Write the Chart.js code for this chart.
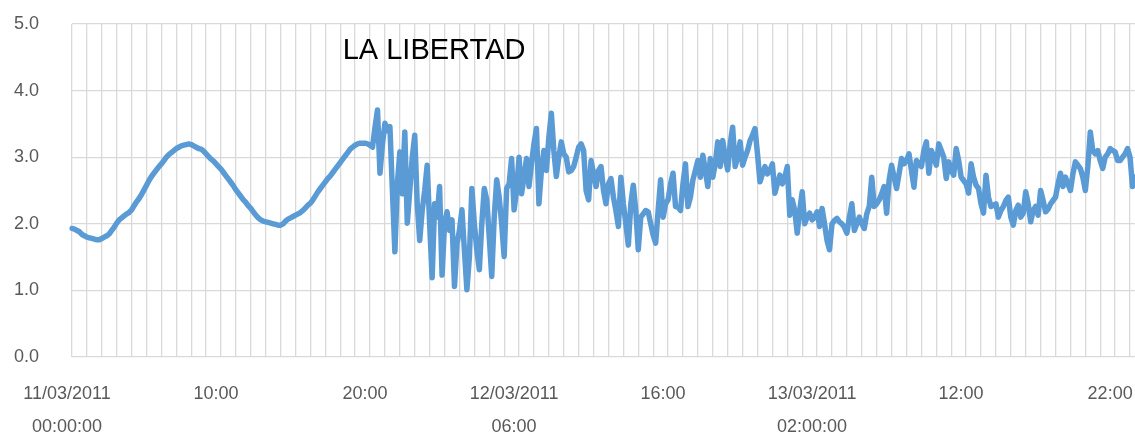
<!DOCTYPE html>
<html>
<head>
<meta charset="utf-8">
<title>LA LIBERTAD</title>
<script src="https://cdn.jsdelivr.net/npm/chart.js@4/dist/chart.umd.min.js"></script>
<style>
    html, body { margin: 0; padding: 0; background: #ffffff; }
    #wrap { width: 1135px; height: 434px; position: relative; }
</style>
</head>
<body>
<div id="wrap"><canvas id="tideChart"></canvas></div>
<script>
// series: sea level every 10 minutes starting 11/03/2011 00:00
const startTime = new Date(2011, 2, 11, 0, 0);
const stepMinutes = 10;

const seaLevel = [
    1.93,1.92,1.90,1.88,1.84,1.82,1.80,1.79,1.78,1.77,
    1.76,1.76,1.78,1.80,1.82,1.85,1.90,1.95,2.01,2.06,
    2.09,2.12,2.15,2.17,2.21,2.27,2.33,2.38,2.44,2.51,
    2.58,2.65,2.71,2.76,2.81,2.86,2.90,2.95,3.00,3.04,
    3.07,3.10,3.13,3.15,3.17,3.18,3.19,3.20,3.19,3.17,
    3.15,3.13,3.12,3.09,3.05,3.01,2.97,2.94,2.90,2.86,
    2.82,2.77,2.72,2.67,2.62,2.57,2.51,2.46,2.41,2.36,
    2.32,2.27,2.23,2.18,2.13,2.09,2.06,2.04,2.03,2.02,
    2.01,2.00,1.99,1.98,1.98,2.00,2.04,2.07,2.09,2.11,
    2.13,2.15,2.17,2.20,2.24,2.28,2.31,2.36,2.42,2.48,
    2.53,2.58,2.63,2.68,2.72,2.77,2.82,2.87,2.92,2.97,
    3.02,3.07,3.12,3.15,3.18,3.20,3.21,3.21,3.21,3.20,
    3.18,3.15,3.45,3.71,2.76,3.20,3.51,3.40,3.46,2.50,
    1.58,2.60,3.08,2.45,3.38,2.01,2.50,3.00,3.33,2.30,
    1.75,2.20,2.50,2.88,2.00,1.19,2.30,2.10,2.56,1.23,
    2.00,2.18,1.90,2.06,1.06,1.70,1.90,2.21,1.60,1.01,
    1.50,2.53,2.00,1.60,1.31,2.00,2.53,2.36,1.80,1.21,
    2.10,2.66,2.40,2.00,1.51,2.53,2.60,2.98,2.21,2.50,
    3.00,2.45,2.70,2.98,2.56,2.90,3.20,3.43,2.30,2.80,
    3.10,2.80,3.30,3.66,3.10,2.71,3.00,3.23,3.05,3.00,
    2.78,2.80,2.86,3.00,3.15,3.20,3.10,2.50,2.36,2.95,
    2.75,2.56,2.80,2.86,2.50,2.30,2.60,2.68,2.40,2.20,
    1.96,2.70,2.30,2.00,1.68,2.30,2.58,2.20,1.61,2.10,
    2.15,2.20,2.18,2.00,1.83,1.71,2.20,2.66,2.10,2.30,
    2.36,2.60,2.76,2.26,2.25,2.20,2.60,2.90,2.26,2.40,
    2.66,2.80,2.95,2.70,3.03,2.80,2.56,2.98,2.70,2.90,
    3.23,2.86,3.25,3.00,2.81,3.20,3.45,2.86,3.00,3.23,
    2.88,3.00,3.10,3.25,3.33,3.43,3.05,2.63,2.75,2.86,
    2.75,2.80,2.90,2.46,2.60,2.73,2.60,2.70,2.86,2.13,
    2.36,2.20,1.86,2.20,2.48,2.00,2.10,2.16,2.06,2.10,
    2.18,1.96,2.23,2.00,1.75,1.61,2.00,2.05,2.08,2.03,
    2.00,1.95,1.86,2.10,2.30,1.90,2.00,2.10,2.00,1.93,
    2.15,2.26,2.70,2.26,2.30,2.36,2.45,2.56,2.16,2.66,
    2.88,2.70,2.53,2.75,2.98,2.90,2.95,3.05,2.80,2.55,
    2.95,2.90,2.86,3.10,3.23,2.76,3.10,3.00,2.88,3.20,
    3.10,3.00,2.68,2.93,2.80,2.73,3.13,2.95,2.70,2.65,
    2.60,2.46,2.90,2.70,2.58,2.53,2.30,2.16,2.73,2.40,
    2.26,2.28,2.30,2.10,2.20,2.26,2.35,2.40,2.10,1.98,
    2.20,2.28,2.10,2.16,2.48,2.30,2.03,2.20,2.26,2.13,
    2.50,2.35,2.18,2.22,2.30,2.35,2.40,2.60,2.76,2.56,
    2.70,2.60,2.50,2.75,2.93,2.88,2.83,2.70,2.50,2.86,
    3.38,3.10,3.05,3.10,2.95,2.83,3.00,3.05,3.13,3.10,
    3.08,2.95,2.95,3.00,3.05,3.13,3.00,2.56,2.70
];

// labelled ticks, one every 10 hours
const tickLabels = [
    ['11/03/2011', '00:00:00'],
    '10:00',
    '20:00',
    ['12/03/2011', '06:00'],
    '16:00',
    ['13/03/2011', '02:00:00'],
    '12:00',
    '22:00'
];
const yTicks = [0, 1, 2, 3, 4, 5];
const chartTitle = 'LA LIBERTAD';

const pad = n => String(n).padStart(2, '0');
const categories = seaLevel.map((v, i) => {
    const t = new Date(startTime.getTime() + i * stepMinutes * 60000);
    return pad(t.getDate()) + '/' + pad(t.getMonth() + 1) + '/' + t.getFullYear() + ' ' + pad(t.getHours()) + ':' + pad(t.getMinutes());
});

const perHour = 60 / stepMinutes;
const gridColor = '#d9d9d9';
const noColor = 'rgba(0,0,0,0)';

Chart.defaults.font.family = "'Liberation Sans', Arial, sans-serif";

const titlePlugin = {
    id: 'innerTitle',
    afterDraw(chart) {
        const { ctx, chartArea } = chart;
        ctx.save();
        ctx.font = "29px 'Liberation Sans', Arial, sans-serif";
        ctx.fillStyle = '#000000';
        ctx.textAlign = 'center';
        ctx.textBaseline = 'middle';
        ctx.fillText(chartTitle, chartArea.left + 362, chartArea.top + 27);
        ctx.restore();
    }
};

const ctx = document.getElementById('tideChart').getContext('2d');
new Chart(ctx, {
    type: 'line',
    data: {
        labels: categories,
        datasets: [{
            label: chartTitle,
            data: seaLevel,
            borderColor: '#5b9bd5',
            borderWidth: 5.5,
            borderJoinStyle: 'round',
            borderCapStyle: 'round',
            pointRadius: 0,
            tension: 0,
            fill: false
        }]
    },
    options: {
        responsive: true,
        maintainAspectRatio: false,
        animation: false,
        layout: { padding: { top: 24, right: 0, left: 0, bottom: 0 } },
        plugins: {
            legend: { display: false },
            tooltip: { enabled: false }
        },
        scales: {
            x: {
                type: 'category',
                offset: false,
                border: { display: false },
                grid: {
                    drawTicks: true,
                    tickLength: 20,
                    tickColor: noColor,
                    lineWidth: 1.3,
                    color: c => (c.index % perHour === 0 ? gridColor : noColor)
                },
                ticks: {
                    autoSkip: false,
                    maxRotation: 0,
                    minRotation: 0,
                    padding: 0,
                    labelOffset: -5,
                    color: '#595959',
                    font: { size: 18, lineHeight: 1.85 },
                    callback: (value, index) => {
                        const every = perHour * 10;
                        if (index % every === 0 && tickLabels[index / every] !== undefined) {
                            return tickLabels[index / every];
                        }
                        return '';
                    }
                },
                afterFit: scale => { scale.height = 77; }
            },
            y: {
                min: yTicks[0],
                max: yTicks[yTicks.length - 1],
                border: { display: false },
                grid: {
                    drawTicks: true,
                    tickLength: 33,
                    tickColor: noColor,
                    color: gridColor,
                    lineWidth: 1.3
                },
                afterBuildTicks: scale => { scale.ticks = yTicks.map(v => ({ value: v })); },
                ticks: {
                    padding: 0,
                    color: '#595959',
                    font: { size: 18 },
                    callback: v => Number(v).toFixed(1)
                },
                afterFit: scale => { scale.width = 72; }
            }
        }
    },
    plugins: [titlePlugin]
});
</script>
</body>
</html>
